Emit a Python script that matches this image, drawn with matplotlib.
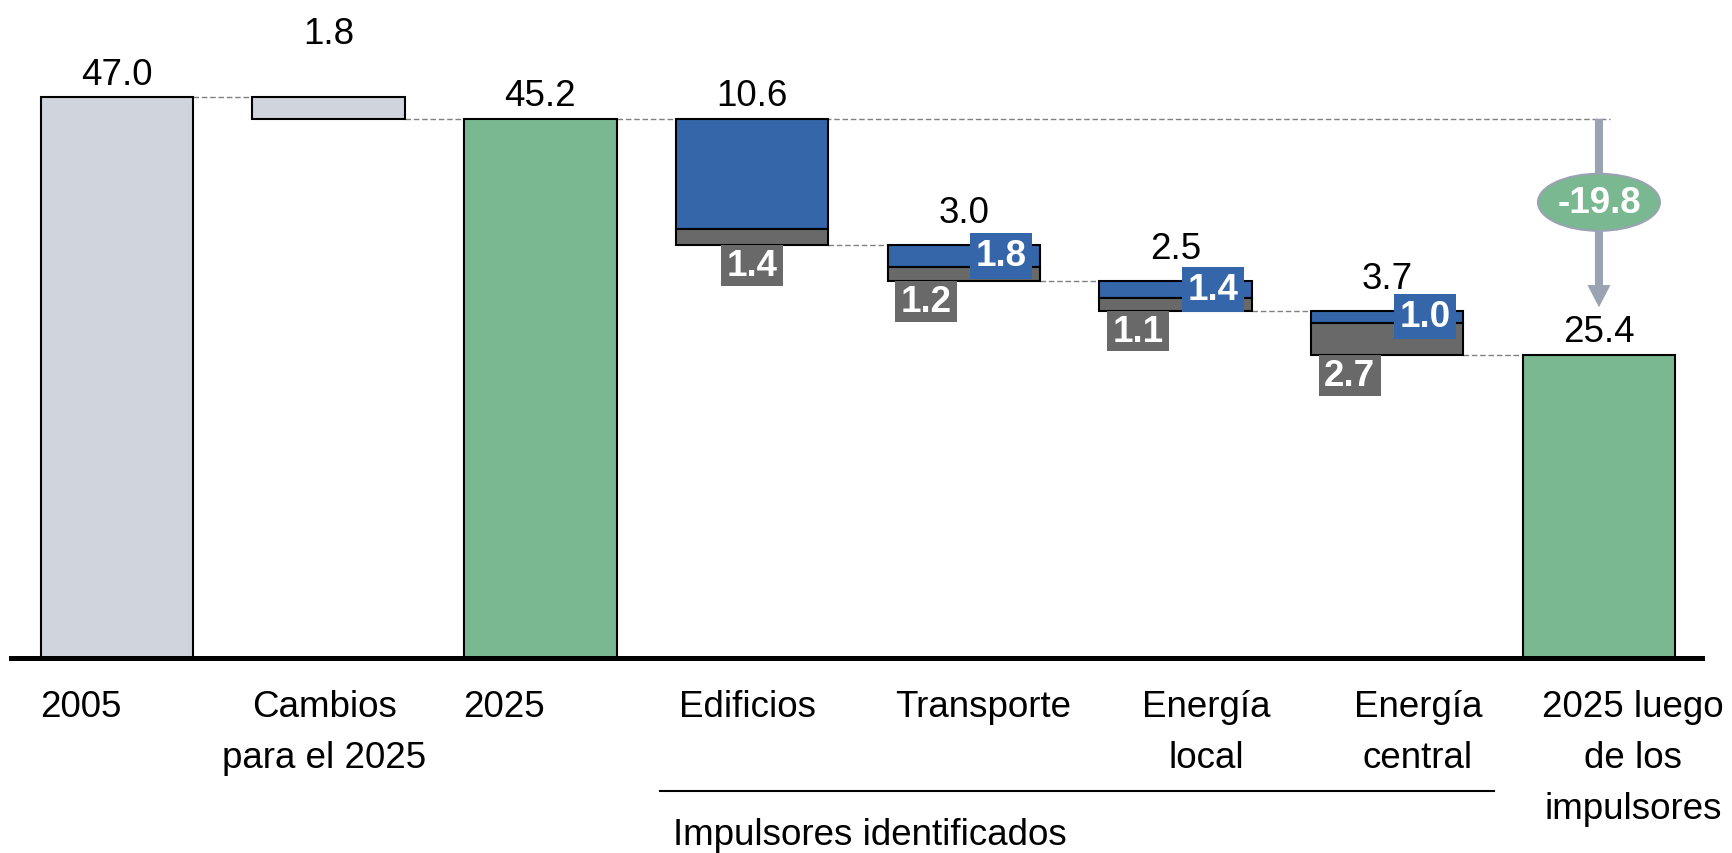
import numpy as np
import matplotlib.pyplot as plt
from matplotlib.patches import Rectangle, Ellipse

plt.rcParams['font.family'] = ['Liberation Sans', 'DejaVu Sans']

# data
categories = ['2005', 'Cambios\npara el 2025', '2025', 'Edificios', 'Transporte',
              'Energía\nlocal', 'Energía\ncentral', '2025 luego\nde los\nimpulsores']
start_2005 = 47.0
cambios = 1.8
drivers = ['Edificios', 'Transporte', 'Energía local', 'Energía central']
driver_blue = [9.2, 1.8, 1.4, 1.0]
driver_gray = [1.4, 1.2, 1.1, 2.7]
show_blue_label = [False, True, True, True]
total_change = -19.8

c_lgray = '#D0D4DC'
c_green = '#7AB891'
c_blue = '#3566AA'
c_dgray = '#696969'
c_arrow = '#9AA3B1'
c_dash = '#808080'

FS = 26.5

fig = plt.figure(figsize=(17.33, 8.54), dpi=100)
ax = fig.add_axes([0.00635, 0.2283, 0.9758, 0.7717])
ax.set_xlim(-0.5, 7.487)
ax.set_ylim(0, 55.24)

w = 0.72
x = np.arange(len(categories))
edge = dict(edgecolor='black', linewidth=1.5, zorder=3)

after_2025 = start_2005 - cambios
totals = [b + g for b, g in zip(driver_blue, driver_gray)]
final = after_2025 - sum(totals)

# totals / simple bars
ax.bar(x[0], start_2005, w, color=c_lgray, **edge)
ax.bar(x[1], cambios, w, bottom=after_2025, color=c_lgray, **edge)
ax.bar(x[2], after_2025, w, color=c_green, **edge)
ax.bar(x[7], final, w, color=c_green, **edge)

# top value labels (offset in points)
def top_label(xi, y, txt, off):
    ax.annotate(txt, (xi, y), xytext=(0, off), textcoords='offset points',
                ha='center', va='bottom', fontsize=FS, zorder=6)

top_label(x[0], start_2005, f'{start_2005:.1f}', 4)
top_label(x[1], start_2005, f'{cambios:.1f}', 33)
top_label(x[2], after_2025, f'{after_2025:.1f}', 4)
top_label(x[7], final, f'{final:.1f}', 4)

# connectors
def dash(x0, x1, y):
    ax.plot([x0, x1], [y, y], color=c_dash, lw=1, ls=(0, (4, 2)), zorder=1)

dash(x[0] + w / 2, x[1] - w / 2, start_2005)
dash(x[1] + w / 2, x[2] - w / 2, after_2025)
dash(x[2] + w / 2, x[7] + 0.05, after_2025)

box_w = 0.293
level = after_2025
for i, (b, g) in enumerate(zip(driver_blue, driver_gray)):
    xi = x[3 + i]
    top = level
    bottom = level - b - g
    ax.bar(xi, b, w, bottom=bottom + g, color=c_blue, **edge)
    ax.bar(xi, g, w, bottom=bottom, color=c_dgray, **edge)
    top_label(xi, top, f'{b + g:.1f}', 4 if not show_blue_label[i] else 11)
    # gray label box hanging below the bar
    gx = xi if not show_blue_label[i] else xi - 0.177
    ax.add_patch(Rectangle((gx - box_w / 2, bottom - 3.4), box_w, 3.4,
                           facecolor=c_dgray, edgecolor='none', zorder=4))
    ax.text(gx, bottom - 3.4 / 2, f'{g:.1f}', ha='center', va='center',
            color='white', fontsize=FS, fontweight='bold', zorder=5)
    if show_blue_label[i]:
        bx = xi + 0.177
        by = bottom + g + b / 2
        ax.add_patch(Rectangle((bx - box_w / 2, by - 1.9), box_w, 3.8,
                               facecolor=c_blue, edgecolor='none', zorder=4))
        ax.text(bx, by, f'{b:.1f}', ha='center', va='center',
                color='white', fontsize=FS, fontweight='bold', zorder=5)
    level = bottom
    nxt = x[3 + i + 1]
    dash(xi + w / 2, nxt - w / 2, level)

# total change arrow with ellipse
tip = final + 4.0
ax.annotate('', xy=(x[7], tip), xytext=(x[7], after_2025),
            arrowprops=dict(arrowstyle='simple,head_length=1.6,head_width=1.66,tail_width=0.58',
                            mutation_scale=10, color=c_arrow, lw=0,
                            shrinkA=0, shrinkB=0), zorder=3)
ax.add_patch(Ellipse((x[7], 38.2), 0.576, 4.78, facecolor=c_green,
                     edgecolor=c_arrow, lw=1.5, zorder=4))
ax.text(x[7], 38.2, f'{total_change:.1f}', ha='center', va='center',
        color='white', fontsize=FS, fontweight='bold', zorder=5)

# category labels
label_dx = [-0.17, -0.02, -0.17, -0.02, 0.09, 0.145, 0.145, 0.16]
for xi, lab, dx in zip(x, categories, label_dx):
    ax.text(xi + dx, -2.6, lab, ha='center', va='top', fontsize=FS,
            linespacing=1.6, clip_on=False)

# bracket for drivers
ax.plot([x[3] - 0.435, x[6] + 0.505], [-11.15, -11.15], color='black', lw=1.5,
        clip_on=False)
ax.text(x[3] - 0.375, -14.8, 'Impulsores identificados', ha='left', va='center',
        fontsize=FS, clip_on=False)

for s in ['top', 'right', 'left']:
    ax.spines[s].set_visible(False)
ax.spines['bottom'].set_linewidth(3.6)
ax.spines['bottom'].set_zorder(7)
ax.set_xticks([])
ax.set_yticks([])

fig.savefig('out.png', dpi=100)
